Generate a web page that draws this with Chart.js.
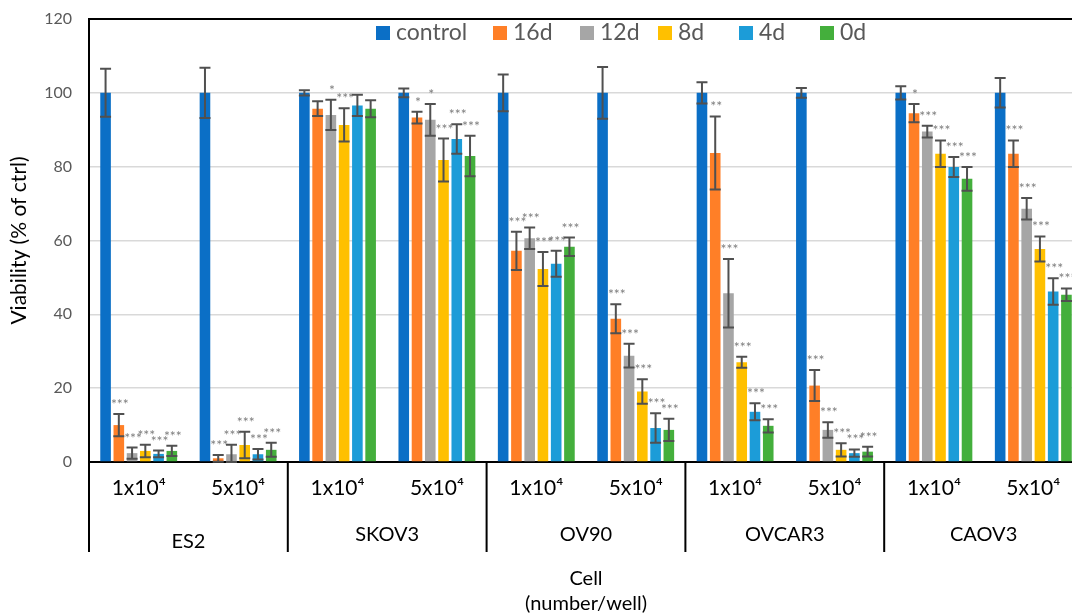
<!DOCTYPE html>
<html><head><meta charset="utf-8">
<script src="https://cdn.jsdelivr.net/npm/chart.js@4.4.0/dist/chart.umd.min.js"></script>
<style>
html,body{margin:0;padding:0;overflow:hidden;background:#fff;}
#wrap{position:relative;width:1092px;height:616px;}
</style></head><body>
<div id="wrap"><canvas id="c"></canvas></div>
<script>
// ---- data ----
const categories = ['1x10⁴','5x10⁴','1x10⁴','5x10⁴','1x10⁴','5x10⁴','1x10⁴','5x10⁴','1x10⁴','5x10⁴'];
const groups = ['ES2','SKOV3','OV90','OVCAR3','CAOV3'];
const seriesNames = ['control','16d','12d','8d','4d','0d'];
const yTicks = [0,20,40,60,80,100,120];

const control    = [100,100,100,100,100,100,100,100,100,100];
const controlErr = [6.5,6.8,0.7,1.2,5.0,7.0,2.9,1.3,1.8,4.0];
const d16    = [10.0,1.0,95.7,93.3,57.2,38.8,83.7,20.7,94.5,83.5];
const d16Err = [3.0,0.9,2.0,1.6,5.2,3.9,9.9,4.2,2.5,3.6];
const d12    = [2.4,2.1,94.0,92.7,60.6,28.8,45.7,8.7,89.5,68.6];
const d12Err = [1.5,2.6,4.1,4.3,2.9,3.2,9.3,2.1,1.6,2.9];
const d8     = [3.0,4.6,91.3,81.8,52.3,19.1,27.0,3.3,83.5,57.7];
const d8Err  = [1.7,3.6,4.5,5.8,4.6,3.3,1.5,1.8,3.6,3.4];
const d4     = [2.2,2.1,96.6,87.5,53.7,9.2,13.6,2.4,79.9,46.2];
const d4Err  = [0.9,1.4,2.9,4.0,3.5,4.0,2.3,1.0,2.7,3.6];
const d0     = [3.0,3.3,95.7,82.9,58.3,8.7,9.8,2.8,76.7,45.3];
const d0Err  = [1.4,1.9,2.3,5.5,2.5,3.0,1.8,1.3,3.2,1.7];

const sigCtrl = ['','','','','','','','','',''];
const sig16 = ['***','***','','*','***','***','**','***','*','***'];
const sig12 = ['***','***','*','*','***','***','***','***','***','***'];
const sig8  = ['***','***','***','***','***','***','***','***','***','***'];
const sig4  = ['***','***','','***','***','***','***','***','***','***'];
const sig0  = ['***','***','','***','***','***','***','***','***','***'];

// ---- style ----
const colors = ['#0B6FC6','#FF7F27','#A6A6A6','#FFC000','#1C9CD8','#44AF3C'];
const FONT = 'Lato, "Open Sans", sans-serif';
const legendX = [376, 493, 580, 658, 739, 820];
const groupLabelDy = [7,0,0,0,0];

const values = [control,d16,d12,d8,d4,d0];
const errs = [controlErr,d16Err,d12Err,d8Err,d4Err,d0Err];
const sigs = [sigCtrl,sig16,sig12,sig8,sig4,sig0];

const datasets = seriesNames.map((n,i)=>({
  label:n, data:values[i], backgroundColor:colors[i], borderWidth:0,
  categoryPercentage:0.8, barPercentage:0.8
}));

const extras = {
  id:'extras',
  afterDatasetsDraw(chart){
    const ctx = chart.ctx, y = chart.scales.y;
    ctx.save();
    chart.data.datasets.forEach((ds,di)=>{
      const meta = chart.getDatasetMeta(di);
      meta.data.forEach((bar,i)=>{
        const v = ds.data[i], e = errs[di][i];
        const yt = y.getPixelForValue(v+e), yb = y.getPixelForValue(Math.max(0,v-e));
        const x = bar.x, hw = 5.5;
        ctx.strokeStyle = '#505050'; ctx.lineWidth = 2;
        ctx.beginPath();
        ctx.moveTo(x,yt); ctx.lineTo(x,yb);
        ctx.moveTo(x-hw,yt); ctx.lineTo(x+hw,yt);
        ctx.moveTo(x-hw,yb); ctx.lineTo(x+hw,yb);
        ctx.stroke();
        const s = sigs[di][i];
        if (s){
          ctx.fillStyle = '#7f7f7f';
          ctx.font = '14px ' + FONT;
          ctx.textAlign = 'center'; ctx.textBaseline = 'alphabetic';
          ctx.fillText(s, x+1, yt - 5);
        }
      });
    });
    ctx.restore();
  },
  afterDraw(chart){
    const ctx = chart.ctx, ca = chart.chartArea, xs = chart.scales.x;
    ctx.save();
    // plot frame (left & top & right)
    ctx.strokeStyle = '#000'; ctx.lineWidth = 2;
    ctx.beginPath();
    ctx.moveTo(ca.left, ca.bottom+90); ctx.lineTo(ca.left, ca.top);
    ctx.lineTo(ca.right, ca.top); ctx.lineTo(ca.right, ca.bottom+90);
    ctx.stroke();
    // group separators and labels
    const bounds = [ca.left];
    for (let g=1; g<groups.length; g++){
      const i = g*2;
      bounds.push((xs.getPixelForValue(i-1)+xs.getPixelForValue(i))/2);
    }
    bounds.push(ca.right);
    ctx.beginPath();
    bounds.forEach(b=>{ ctx.moveTo(b, ca.bottom); ctx.lineTo(b, ca.bottom+90); });
    ctx.stroke();
    ctx.fillStyle = '#000';
    ctx.font = '20px ' + FONT;
    ctx.textAlign = 'center'; ctx.textBaseline = 'middle';
    groups.forEach((g,k)=>{
      const cx = (xs.getPixelForValue(2*k)+xs.getPixelForValue(2*k+1))/2;
      ctx.fillText(g, cx, ca.bottom + 73 + groupLabelDy[k]);
    });
    // legend
    ctx.font = '23px ' + FONT;
    ctx.textAlign = 'left';
    seriesNames.forEach((s,i)=>{
      ctx.fillStyle = colors[i];
      ctx.fillRect(legendX[i], 26, 14, 14);
      ctx.fillStyle = '#595959';
      ctx.fillText(s, legendX[i]+20, 33);
    });
    ctx.restore();
  }
};

new Chart(document.getElementById('c'), {
  type:'bar',
  data:{labels:categories, datasets},
  plugins:[extras],
  options:{
    responsive:true, maintainAspectRatio:false, animation:false,
    layout:{padding:{top:19,left:0,right:9,bottom:0}},
    plugins:{legend:{display:false}, tooltip:{enabled:false}},
    scales:{
      x:{
        grid:{display:false, drawTicks:false},
        border:{display:true, color:'#000', width:2},
        ticks:{color:'#000', font:{family:FONT, size:21}, padding:14, maxRotation:0, autoSkip:false},
        title:{display:true, text:['Cell','(number/well)'], color:'#000',
               font:{family:FONT, size:20, lineHeight:1.25}, padding:{top:0,bottom:0}},
        afterFit(s){ s.height = 154; }
      },
      y:{
        min:0, max:120,
        afterBuildTicks(s){ s.ticks = yTicks.map(v=>({value:v})); },
        grid:{color:'#d9d9d9', lineWidth:1.5, drawTicks:false},
        border:{display:true, color:'#000', width:2},
        ticks:{color:'#595959', font:{family:FONT, size:16}, padding:17},
        title:{display:true, text:'Viability (% of ctrl)', color:'#000',
               font:{family:FONT, size:21}, padding:{top:7,bottom:0}},
        afterFit(s){ s.width = 89; s.paddingTop = 0; s.paddingBottom = 0; }
      }
    }
  }
});
</script>
</body></html>
